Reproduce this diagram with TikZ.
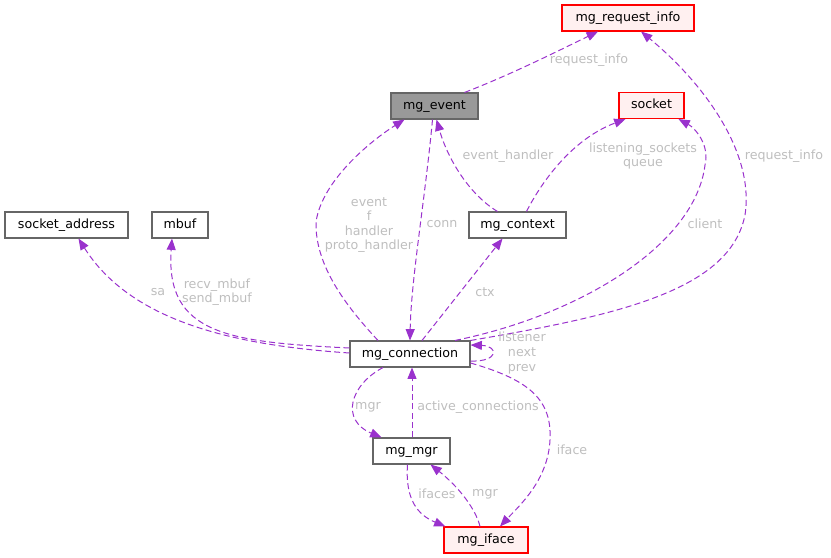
\documentclass[tikz,border=0pt]{standalone}
\usepackage{fontspec}
\setmainfont{DejaVu Sans}
\usetikzlibrary{calc,arrows.meta}
\definecolor{edgecol}{HTML}{9A32CD}
\definecolor{lblcol}{HTML}{BEBEBE}
\definecolor{boxgray}{HTML}{666666}
\definecolor{redfill}{HTML}{FFF0F0}
\definecolor{evfill}{HTML}{999999}
\tikzset{
  box/.style={draw=boxgray, fill=white, line width=0.8pt, minimum height=19.5pt, inner sep=0pt, text height=7.2pt, text depth=2.2pt},
  redbox/.style={box, draw=red, fill=redfill},
  lbl/.style={text=lblcol, align=center, inner sep=0pt},
  link/.style={draw=edgecol, line width=0.75pt, dash pattern=on 4.5pt off 2.5pt, -{Triangle[length=8.5pt,width=6.75pt]}}
}
\begin{document}
\begin{tikzpicture}[x=0.75pt, y=-0.75pt, font=\fontsize{9.5}{10.9}\selectfont]
\useasboundingbox (0,0) rectangle (831,557);
% nodes
\node[redbox, minimum width=99pt] (rq) at (628,18) {mg\_request\_info};
\node[box, fill=evfill, minimum width=65.25pt] (ev) at (434.5,106) {mg\_event};
\node[redbox, minimum width=48.75pt] (so) at (651.5,105.5) {socket};
\node[box, minimum width=92.25pt] (sadr) at (66.5,225) {socket\_address};
\node[box, minimum width=42pt] (mb) at (180,225) {mbuf};
\node[box, minimum width=72.75pt] (ctx) at (517.5,225) {mg\_context};
\node[box, minimum width=90pt] (conn) at (410,354) {mg\_connection};
\node[box, minimum width=57.75pt] (mgr) at (411.5,451) {mg\_mgr};
\node[redbox, minimum width=63pt] (ifc) at (486,540) {mg\_iface};
% edges
\draw[link] ($(ev.north)+(30,0)$) .. controls (510,75) and (560,50) .. ($(rq.south)+(-30,0)$);
\draw[link] ($(conn.north)+(-32,0)$) .. controls (345,305) and (315,265) .. (316,222)
   .. controls (322,180) and (372,140) .. ($(ev.south)+(-30,0)$);
\draw[link] ($(ev.south)+(-2,0)$) .. controls (425,200) and (411,280) .. (conn.north);
\draw[link] ($(ctx.north)+(-20,0)$) .. controls (470,195) and (448,160) .. ($(ev.south)+(2,0)$);
\draw[link] ($(ctx.north)+(9,0)$) .. controls (540,185) and (570,140) .. ($(so.south)+(-26,0)$);
\draw[link] ($(conn.north)+(45,0)$) .. controls (580,315) and (695,245) .. (705,165)
   .. controls (710,145) and (695,128) .. ($(so.south)+(27,0)$);
\draw[link] (conn.north east) .. controls (620,315) and (730,290) .. (745,215)
   .. controls (755,150) and (700,80) .. ($(rq.south)+(13,0)$);
\draw[link] ($(conn.north)+(12,0)$) -- ($(ctx.south)+(-15,0)$);
\draw[link] ($(conn.west)+(0,-1)$) .. controls (230,345) and (130,320) .. ($(sadr.south)+(12,0)$);
\draw[link] ($(conn.west)+(0,-6)$) .. controls (230,342) and (165,335) .. ($(mb.south)+(-8,0)$);
\draw[link] ($(conn.east)+(0,7)$) .. controls (499,362) and (499,346) .. ($(conn.east)+(0,-9)$);
\draw[link] ($(conn.east)+(0,9)$) .. controls (530,380) and (552,400) .. (550,440)
   .. controls (548,480) and (520,505) .. ($(ifc.north)+(14,0)$);
\draw[link] ($(conn.south)+(-27,0)$) .. controls (350,385) and (340,420) .. ($(mgr.north)+(-30,0)$);
\draw[link] ($(mgr.north)+(0.5,0)$) -- ($(mgr.north |- conn.south)+(0.5,0)$);
\draw[link] ($(mgr.south)+(-4,0)$) .. controls (405,500) and (418,515) .. ($(ifc.north west)+(2,0)$);
\draw[link] ($(ifc.north)+(-6,0)$) .. controls (476,510) and (460,488) .. ($(mgr.south)+(19,0)$);
% labels
\node[lbl] (l1) at (589,60) {request\_info};
\node[lbl] (l2) at (369,225) {event\\f\\handler\\proto\_handler};
\node[lbl] (l3) at (442,224) {conn};
\node[lbl] (l4) at (508,156) {event\_handler};
\node[lbl] (l5) at (643,156) {listening\_sockets\\queue};
\node[lbl] (l6) at (705,224) {client};
\node[lbl] (l7) at (784,156) {request\_info};
\node[lbl] (l8) at (485,292) {ctx};
\node[lbl] (l9) at (158,292) {sa};
\node[lbl] (l10) at (217,292) {recv\_mbuf\\send\_mbuf};
\node[lbl] (l11) at (522,353) {listener\\next\\prev};
\node[lbl] (l12) at (572,450) {iface};
\node[lbl] (l13) at (368,407) {mgr};
\node[lbl] (l14) at (478,407) {active\_connections};
\node[lbl] (l15) at (437,494) {ifaces};
\node[lbl] (l16) at (485,494) {mgr};
\end{tikzpicture}
\end{document}
